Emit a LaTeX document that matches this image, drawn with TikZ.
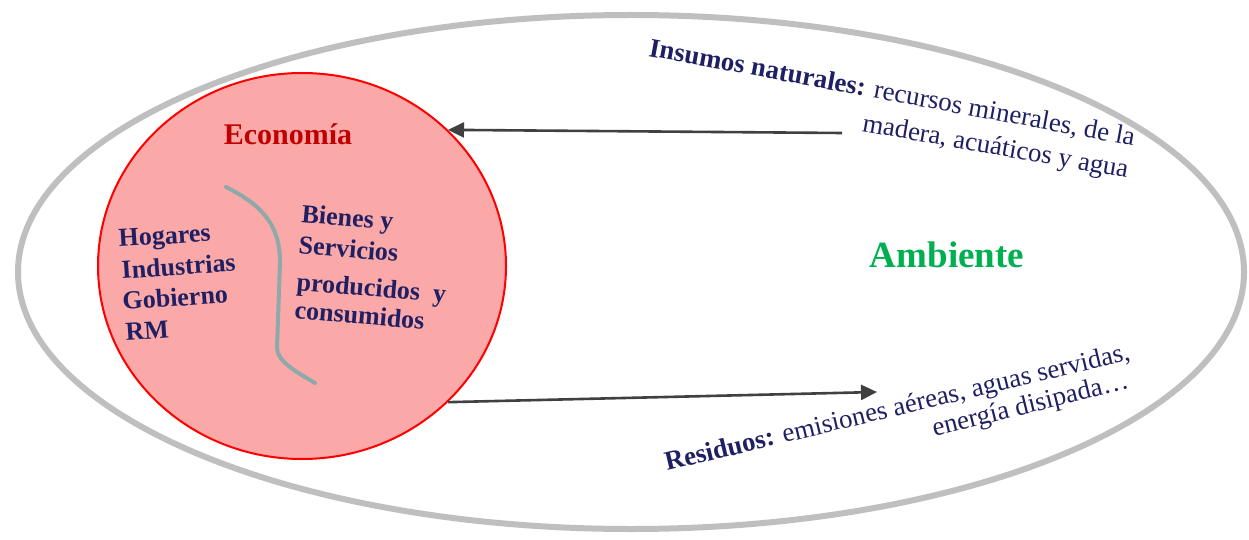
\documentclass[tikz,border=0pt]{standalone}
\usepackage{fontspec}
\setmainfont{Liberation Serif}
\usetikzlibrary{arrows.meta,shapes.geometric}
\definecolor{navy}{HTML}{1F2063}
\definecolor{ecored}{HTML}{C00000}
\definecolor{ecofill}{HTML}{FBA8A8}
\definecolor{ambgreen}{HTML}{00B050}
\definecolor{ringgray}{HTML}{BFBFBF}
\definecolor{dividergray}{HTML}{8FA8A8}
\definecolor{arrowgray}{HTML}{404040}
\tikzset{
  txt/.style={inner sep=0pt, text=navy, font=\fontsize{26.8}{31}\selectfont},
  btxt/.style={inner sep=0pt, text=navy, font=\bfseries\fontsize{26}{31}\selectfont},
  flow/.style={draw=arrowgray, line width=2.6pt, -{Triangle[length=16pt,width=15pt]}},
}
\begin{document}
\begin{tikzpicture}[x=1pt,y=-1pt]
\useasboundingbox (0,0) rectangle (1249,540);
\fill[white] (0,0) rectangle (1249,540);
% outer environment ellipse
\node[ellipse, draw=ringgray, line width=6pt, minimum width=1226pt, minimum height=514pt, inner sep=0pt] (amb) at (631,272) {};
% economy circle
\node[ellipse, draw=red, fill=ecofill, line width=2pt, minimum width=408pt, minimum height=386pt, inner sep=0pt] (eco) at (302,266) {};
% divider
\draw[dividergray, line width=4pt, line cap=round] (226,187) .. controls (262,205) and (280,225) .. (280,262) -- (277,348) .. controls (277,362) and (300,374) .. (315,383);
% labels inside economy
\node[inner sep=0pt, text=ecored, font=\bfseries\fontsize{30}{36}\selectfont, anchor=base] (ecolbl) at (288,145) {Economía};
\node[btxt, anchor=base west, rotate=3.5] (hog) at (119,247) {Hogares};
\node[btxt, anchor=base west, rotate=4] (ind) at (122,279) {Industrias};
\node[btxt, anchor=base west, rotate=4] (gob) at (123,310) {Gobierno};
\node[btxt, anchor=base west, rotate=4] (rm) at (126,341) {RM};
\node[btxt, anchor=base west, rotate=-5] (bie) at (301,222) {Bienes y};
\node[btxt, anchor=base west, rotate=-5] (ser) at (298,253) {Servicios};
\node[btxt, anchor=base west, rotate=-5] (pro) at (296,290) {producidos\ \ y};
\node[btxt, anchor=base west, rotate=-5] (con) at (294,318) {consumidos};
% environment label
\node[inner sep=0pt, text=ambgreen, font=\bfseries\fontsize{37}{44}\selectfont, anchor=base] (amblbl) at (947,267) {Ambiente};
% inputs
\node[txt, anchor=base west, rotate=-10.5] (ins1) at (648,56) {\textbf{Insumos naturales:} recursos minerales, de la};
\node[txt, anchor=base east, rotate=-10] (ins2) at (1127,178) {madera, acuáticos y agua};
\coordinate (insStart) at (842,133);
\draw[flow] (insStart) -- (eco.43.4);
% residues
\node[txt, anchor=base west, rotate=13.5] (res1) at (667,471) {\textbf{Residuos:} emisiones aéreas, aguas servidas,};
\node[txt, anchor=base east, rotate=14] (res2) at (1130,388) {energía disipada…};
\coordinate (resEnd) at (877,392);
\draw[flow] (eco.-43.4) -- (resEnd);
\end{tikzpicture}
\end{document}
